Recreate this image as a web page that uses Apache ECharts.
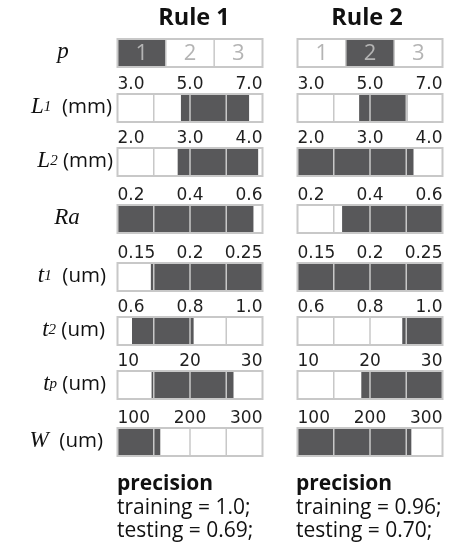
<!DOCTYPE html>
<html><head><meta charset="utf-8">
<script src="https://cdn.jsdelivr.net/npm/echarts@6/dist/echarts.min.js"></script>
<style>html,body{margin:0;padding:0;background:#fff}#c{width:467px;height:556px}</style>
</head><body><div id="c"></div>
<script>
// ---------------- data ----------------
const ruleNames = ['Rule 1', 'Rule 2'];
const rowKeys = ['p', 'L1', 'L2', 'Ra', 't1', 't2', 'tp', 'W'];
const pCategories = ['1', '2', '3'];
const pSelected = [1, 2];            // category chosen by Rule 1 / Rule 2
const tickL1 = ['3.0', '5.0', '7.0'];
const tickL2 = ['2.0', '3.0', '4.0'];
const tickRa = ['0.2', '0.4', '0.6'];
const tickT1 = ['0.15', '0.2', '0.25'];
const tickT2 = ['0.6', '0.8', '1.0'];
const tickTp = ['10', '20', '30'];
const tickW = ['100', '200', '300'];
const rule1Ranges = [[4.75, 6.63], [2.83, 3.94], [0.2, 0.575], [0.173, 0.25], [0.64, 0.81], [14.7, 26.0], [100, 159]];
const rule2Ranges = [[4.70, 6.03], [2.0, 3.6], [0.323, 0.6], [0.15, 0.25], [0.889, 1.0], [18.8, 30], [100, 257]];
const precisionTitle = 'precision';
const rule1Precision = ['training = 1.0;', 'testing = 0.69;'];
const rule2Precision = ['training = 0.96;', 'testing = 0.70;'];

// ---------------- layout / style ----------------
const tickSets = [tickL1, tickL2, tickRa, tickT1, tickT2, tickTp, tickW];
const ruleRanges = [rule1Ranges, rule2Ranges];
const colLeft = [117.5, 297.5];
const boxW = 145;
const rowTop = [39, 94, 148, 205, 263, 317, 371, 428];
const boxH = 28;
const DARK = '#58585a';
const LINE = '#c8c8c8';
const SANS = '"Open Sans", sans-serif';
const SERIF = '"Liberation Serif", "DejaVu Serif", serif';

function makeRender(min, max, dividers, cellLabels) {
  return function (params, api) {
    const lo = api.value(0), hi = api.value(1);
    const tl = api.coord([min, 1]), br = api.coord([max, 0]);
    const a = api.coord([lo, 1]), b = api.coord([hi, 0]);
    const box = { x: tl[0], y: tl[1], width: br[0] - tl[0], height: br[1] - tl[1] };
    const ch = [];
    ch.push({ type: 'rect', shape: box, style: { fill: '#fff' } });
    ch.push({ type: 'rect', shape: { x: a[0], y: a[1], width: b[0] - a[0], height: b[1] - a[1] }, style: { fill: DARK } });
    dividers.forEach(function (d) {
      const p = api.coord([d, 0]);
      ch.push({ type: 'line', shape: { x1: p[0], y1: tl[1], x2: p[0], y2: br[1] }, style: { stroke: LINE, lineWidth: 1.5 } });
    });
    ch.push({ type: 'rect', shape: box, style: { fill: null, stroke: LINE, lineWidth: 2 } });
    if (cellLabels) {
      cellLabels.forEach(function (lab, i) {
        const c = api.coord([i + 1, 0.5]);
        ch.push({ type: 'text', x: c[0], y: c[1] + 1, style: { text: lab, fill: '#b4b4b4', font: '22px ' + SANS, align: 'center', verticalAlign: 'middle' } });
      });
    }
    return { type: 'group', children: ch };
  };
}

const grids = [], xAxes = [], yAxes = [], series = [];
for (let col = 0; col < 2; col++) {
  for (let r = 0; r < rowKeys.length; r++) {
    const gi = grids.length;
    grids.push({ left: colLeft[col], top: rowTop[r], width: boxW, height: boxH });
    yAxes.push({ gridIndex: gi, type: 'value', min: 0, max: 1, show: false });
    if (r === 0) {
      xAxes.push({ gridIndex: gi, type: 'value', min: 0.5, max: pCategories.length + 0.5, show: false });
      const s = pSelected[col];
      series.push({
        type: 'custom', xAxisIndex: gi, yAxisIndex: gi, silent: true,
        renderItem: makeRender(0.5, pCategories.length + 0.5, [1.5, 2.5], pCategories),
        data: [[s - 0.5, s + 0.5]]
      });
    } else {
      const ticks = tickSets[r - 1];
      const min = parseFloat(ticks[0]), max = parseFloat(ticks[ticks.length - 1]);
      const step = (max - min) / 4;
      xAxes.push({
        gridIndex: gi, type: 'value', min: min, max: max, interval: (max - min) / 2, position: 'top',
        axisLine: { show: false }, axisTick: { show: false }, splitLine: { show: false },
        axisLabel: {
          margin: 1, fontFamily: '"DejaVu Sans", sans-serif', fontSize: 17, color: '#1e1e1e',
          alignMinLabel: 'left', alignMaxLabel: 'right',
          formatter: function (v) {
            for (const t of ticks) { if (Math.abs(parseFloat(t) - v) < (max - min) * 1e-6) return t; }
            return '';
          }
        }
      });
      series.push({
        type: 'custom', xAxisIndex: gi, yAxisIndex: gi, silent: true,
        renderItem: makeRender(min, max, [min + step, min + 2 * step, min + 3 * step], null),
        data: [ruleRanges[col][r - 1]]
      });
    }
  }
}

// row labels
const rich = {
  it: { fontFamily: SERIF, fontStyle: 'italic', fontSize: 23, fill: '#111' },
  sub: { fontFamily: SERIF, fontStyle: 'italic', fontSize: 15, fill: '#111' },
  u: { fontFamily: SANS, fontSize: 20.5, fill: '#111' }
};
const rowLabelText = [
  '{it|p}', '{it|L}{sub|1}{u|  (mm)}', '{it|L}{sub|2}{u| (mm)}', '{it|Ra}',
  '{it|t}{sub|1}{u|  (um)}', '{it|t}{sub|2}{u| (um)}', '{it|t}{sub|p}{u| (um)}', '{it|W}{u|  (um)}'
];
const rowLabelX = [63, 112, 113, 67, 106, 105, 106, 103];
const rowLabelAlign = ['center', 'right', 'right', 'center', 'right', 'right', 'right', 'right'];
const graphics = [];
rowKeys.forEach(function (k, r) {
  graphics.push({
    type: 'text', x: rowLabelX[r], y: rowTop[r] + boxH / 2 - 1,
    style: { text: rowLabelText[r], rich: rich, align: rowLabelAlign[r], verticalAlign: 'middle' }
  });
});
const titleX = [194, 367];
ruleNames.forEach(function (n, i) {
  graphics.push({ type: 'text', x: titleX[i], y: 18, style: { text: n, font: 'bold 23.5px ' + SANS, fill: '#111', align: 'center', verticalAlign: 'middle' } });
});
const precX = [117, 296];
[rule1Precision, rule2Precision].forEach(function (lines, i) {
  graphics.push({ type: 'text', x: precX[i], y: 484, style: { text: precisionTitle, font: 'bold 21px ' + SANS, fill: '#111', align: 'left', verticalAlign: 'middle' } });
  lines.forEach(function (ln, j) {
    graphics.push({ type: 'text', x: precX[i], y: 508 + j * 23.5, style: { text: ln, font: '21px ' + SANS, fill: '#111', align: 'left', verticalAlign: 'middle' } });
  });
});

const chart = echarts.init(document.getElementById('c'), null, { renderer: 'canvas' });
chart.setOption({
  animation: false,
  backgroundColor: '#fff',
  grid: grids, xAxis: xAxes, yAxis: yAxes, series: series,
  graphic: graphics
});
</script></body></html>
